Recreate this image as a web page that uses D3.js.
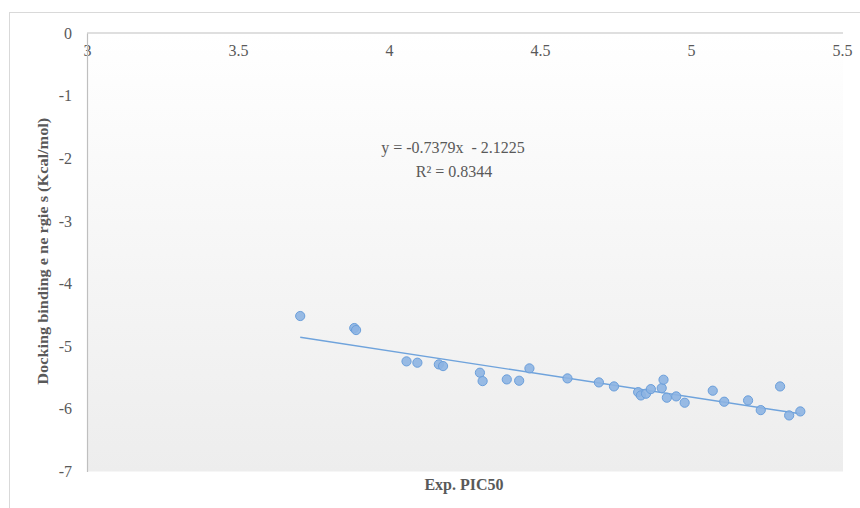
<!DOCTYPE html>
<html>
<head>
<meta charset="utf-8">
<script src="https://cdn.jsdelivr.net/npm/d3@7"></script>
<style>
  html, body { margin: 0; padding: 0; background: #ffffff; }
  svg { display: block; }
</style>
</head>
<body>
<svg id="chart" width="860" height="508"></svg>
<script>
// ---- data ----
const expPIC50 = [3.706, 3.885, 3.891, 4.058, 4.094, 4.165, 4.179, 4.301, 4.310, 4.390,
                  4.431, 4.465, 4.591, 4.695, 4.745, 4.825, 4.834, 4.851, 4.867, 4.903,
                  4.909, 4.920, 4.951, 4.979, 5.072, 5.110, 5.189, 5.231, 5.295, 5.325, 5.362];
const dockingEnergy = [-4.518, -4.710, -4.742, -5.242, -5.263, -5.290, -5.317, -5.423, -5.557, -5.530,
                       -5.551, -5.354, -5.514, -5.578, -5.642, -5.733, -5.786, -5.758, -5.685, -5.669,
                       -5.535, -5.822, -5.801, -5.902, -5.710, -5.886, -5.865, -6.020, -5.642, -6.105, -6.041];
const trendSlope = -0.7379;
const trendIntercept = -2.1225;
const equationLabel = "y = -0.7379x  - 2.1225";
const r2Label = "R² = 0.8344";
const xTicks = [3, 3.5, 4, 4.5, 5, 5.5];
const yTicks = [0, -1, -2, -3, -4, -5, -6, -7];
const xTitle = "Exp. PIC50";
const yTitle = "Docking binding e ne rgie s (Kcal/mol)";

// ---- layout ----
const svg = d3.select("#chart");
const plot = { left: 87, top: 33, right: 843, bottom: 471.5 };
const x = d3.scaleLinear().domain([3, 5.5]).range([plot.left, 842]);
const y = d3.scaleLinear().domain([0, -7]).range([plot.top, plot.bottom]);
const serif = "'Liberation Serif', 'Times New Roman', serif";
const textColor = "#595959";

// outer chart border
svg.append("rect")
  .attr("x", 9.5).attr("y", 12.5)
  .attr("width", 900).attr("height", 600)
  .attr("fill", "#ffffff")
  .attr("stroke", "#d9d9d9").attr("stroke-width", 1);

// plot area gradient
const defs = svg.append("defs");
const grad = defs.append("linearGradient")
  .attr("id", "plotGrad").attr("x1", 0).attr("y1", 0).attr("x2", 0).attr("y2", 1);
grad.append("stop").attr("offset", "0%").attr("stop-color", "#ffffff");
grad.append("stop").attr("offset", "100%").attr("stop-color", "#ededed");

svg.append("rect")
  .attr("x", plot.left).attr("y", plot.top)
  .attr("width", plot.right - plot.left).attr("height", plot.bottom - plot.top)
  .attr("fill", "url(#plotGrad)");

// x axis (crosses at y = 0, i.e. along the top)
const xAxis = svg.append("g")
  .attr("transform", `translate(0,${y(0)})`)
  .call(d3.axisBottom(x).tickValues(xTicks).tickSize(0).tickPadding(12)
        .tickFormat(d => String(d)));
xAxis.select(".domain").attr("stroke", "#bfbfbf").attr("stroke-width", 1.2)
  .attr("d", `M${plot.left},0H${plot.right}`);
xAxis.selectAll("text")
  .attr("font-family", serif).attr("font-size", 16).attr("fill", textColor);

// y axis
const yAxis = svg.append("g")
  .attr("transform", `translate(${plot.left},0)`)
  .call(d3.axisLeft(y).tickValues(yTicks).tickSize(0).tickPadding(15)
        .tickFormat(d => String(d)));
yAxis.select(".domain").attr("stroke", "#bfbfbf").attr("stroke-width", 1.2);
yAxis.selectAll("text")
  .attr("font-family", serif).attr("font-size", 16).attr("fill", textColor);

// trend line
const xExtent = d3.extent(expPIC50);
svg.append("line")
  .attr("x1", x(xExtent[0])).attr("y1", y(trendSlope * xExtent[0] + trendIntercept))
  .attr("x2", x(xExtent[1])).attr("y2", y(trendSlope * xExtent[1] + trendIntercept))
  .attr("stroke", "#6fa3dc").attr("stroke-width", 1.4);

// points
svg.append("g").selectAll("circle")
  .data(expPIC50.map((v, i) => [v, dockingEnergy[i]]))
  .join("circle")
  .attr("cx", d => x(d[0]))
  .attr("cy", d => y(d[1]))
  .attr("r", 4.6)
  .attr("fill", "#8db4e2")
  .attr("fill-opacity", 0.9)
  .attr("stroke", "#6b9fdb")
  .attr("stroke-width", 1);

// equation labels
svg.append("text")
  .attr("x", 453).attr("y", 153)
  .attr("text-anchor", "middle")
  .attr("font-family", serif).attr("font-size", 16).attr("fill", textColor)
  .style("white-space", "pre")
  .text(equationLabel);
svg.append("text")
  .attr("x", 454).attr("y", 177)
  .attr("text-anchor", "middle")
  .attr("font-family", serif).attr("font-size", 16).attr("fill", textColor)
  .text(r2Label);

// axis titles
svg.append("text")
  .attr("x", 464).attr("y", 490)
  .attr("text-anchor", "middle")
  .attr("font-family", serif).attr("font-size", 16).attr("font-weight", "bold")
  .attr("fill", textColor)
  .style("white-space", "pre")
  .text(xTitle);

svg.append("text")
  .attr("transform", `translate(48,${(plot.top + plot.bottom) / 2 - 1}) rotate(-90)`)
  .attr("text-anchor", "middle")
  .attr("font-family", serif).attr("font-size", 15).attr("font-weight", "bold")
  .attr("fill", textColor)
  .attr("textLength", 267).attr("lengthAdjust", "spacingAndGlyphs")
  .text(yTitle);
</script>
</body>
</html>
